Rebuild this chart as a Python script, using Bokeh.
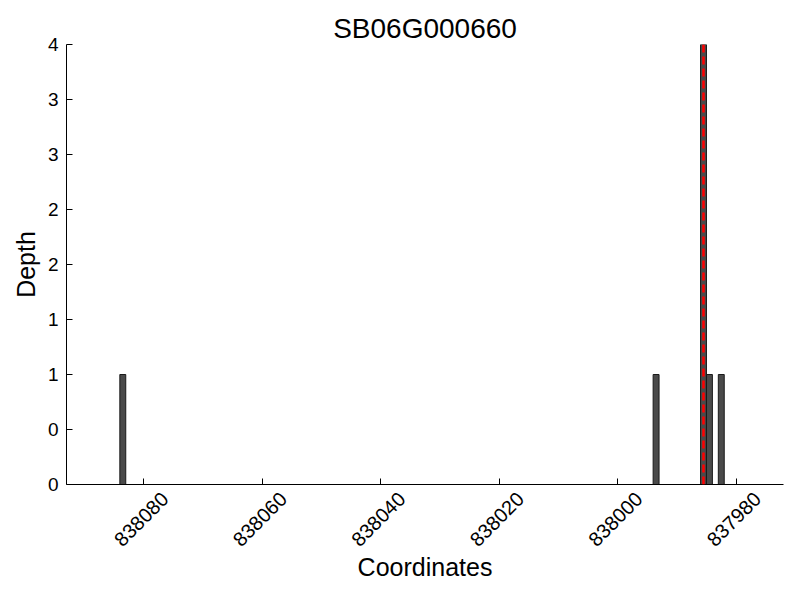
import math
from bokeh.plotting import figure
from bokeh.models import Range1d, FixedTicker, Span, LinearAxis
from bokeh.embed import file_html
from bokeh.resources import INLINE

title = "SB06G000660"
positions = [838083.5, 837993.5, 837985.5, 837984.5, 837982.5]
depths = [1, 1, 4, 1, 1]
marker_pos = 837985.5
x_ticks = [838080, 838060, 838040, 838020, 838000, 837980]
x_tick_labels = ["838080", "838060", "838040", "838020", "838000", "837980"]
y_ticks = [0, 0.5, 1, 1.5, 2, 2.5, 3, 3.5, 4]
y_tick_labels = ["0", "0", "1", "1", "2", "2", "3", "3", "4"]

FONT = "Liberation Sans"
X_START, X_END = 838093, 837972
LABEL_SHIFT = 3.6  # shifts rotated tick labels so they sit centred under their ticks

p = figure(width=784, height=584, output_backend="svg", toolbar_location=None,
           x_range=Range1d(X_START, X_END), y_range=Range1d(0, 4),
           frame_width=717, frame_height=440,
           min_border_left=66, min_border_top=44, min_border_right=1, min_border_bottom=100,
           title=title)
p.extra_x_ranges = {"labels": Range1d(X_START + LABEL_SHIFT, X_END + LABEL_SHIFT)}

p.vbar(x=positions, top=depths, width=1, bottom=0,
       fill_color="#4a4a4a", line_color="#1a1a1a", line_width=1)
p.add_layout(Span(location=marker_pos, dimension="height", line_color="#ff0000",
                  line_width=2.5, line_dash="8 4"))

p.title.align = "center"
p.title.text_font = FONT
p.title.text_font_size = "28px"
p.title.text_font_style = "normal"
p.title.text_color = "black"
p.title.standoff = 2

p.grid.visible = False
p.outline_line_color = None

p.xaxis.ticker = FixedTicker(ticks=x_ticks)
p.yaxis.ticker = FixedTicker(ticks=y_ticks)
p.yaxis.major_label_overrides = {t: l for t, l in zip(y_ticks, y_tick_labels)}
p.xaxis.major_label_overrides = {t: "" for t in x_ticks}
p.xaxis.major_label_standoff = 0

for ax in (p.xaxis, p.yaxis):
    ax.major_tick_in = 6
    ax.major_tick_out = 0
    ax.minor_tick_in = 0
    ax.minor_tick_out = 0
    ax.axis_line_color = "black"
    ax.major_tick_line_color = "black"
    ax.major_label_text_font = FONT
    ax.major_label_text_font_size = "19px"
    ax.major_label_text_color = "black"
    ax.axis_label_text_font = FONT
    ax.axis_label_text_font_size = "25px"
    ax.axis_label_text_font_style = "normal"
    ax.axis_label_text_color = "black"

p.yaxis.axis_label = "Depth"
p.yaxis.major_label_standoff = 8
p.yaxis.axis_label_standoff = 5

lab_axis = LinearAxis(x_range_name="labels", ticker=FixedTicker(ticks=x_ticks),
                      major_label_overrides={t: l for t, l in zip(x_ticks, x_tick_labels)},
                      major_label_orientation=math.pi / 4,
                      axis_line_color=None, major_tick_line_color=None,
                      minor_tick_line_color=None,
                      major_label_standoff=5,
                      major_label_text_font=FONT, major_label_text_font_size="20px",
                      major_label_text_color="black",
                      axis_label="Coordinates", axis_label_standoff=-3,
                      axis_label_text_font=FONT, axis_label_text_font_size="25px",
                      axis_label_text_font_style="normal", axis_label_text_color="black")
p.add_layout(lab_axis, "below")

open("out.html", "w").write(file_html(p, INLINE))
